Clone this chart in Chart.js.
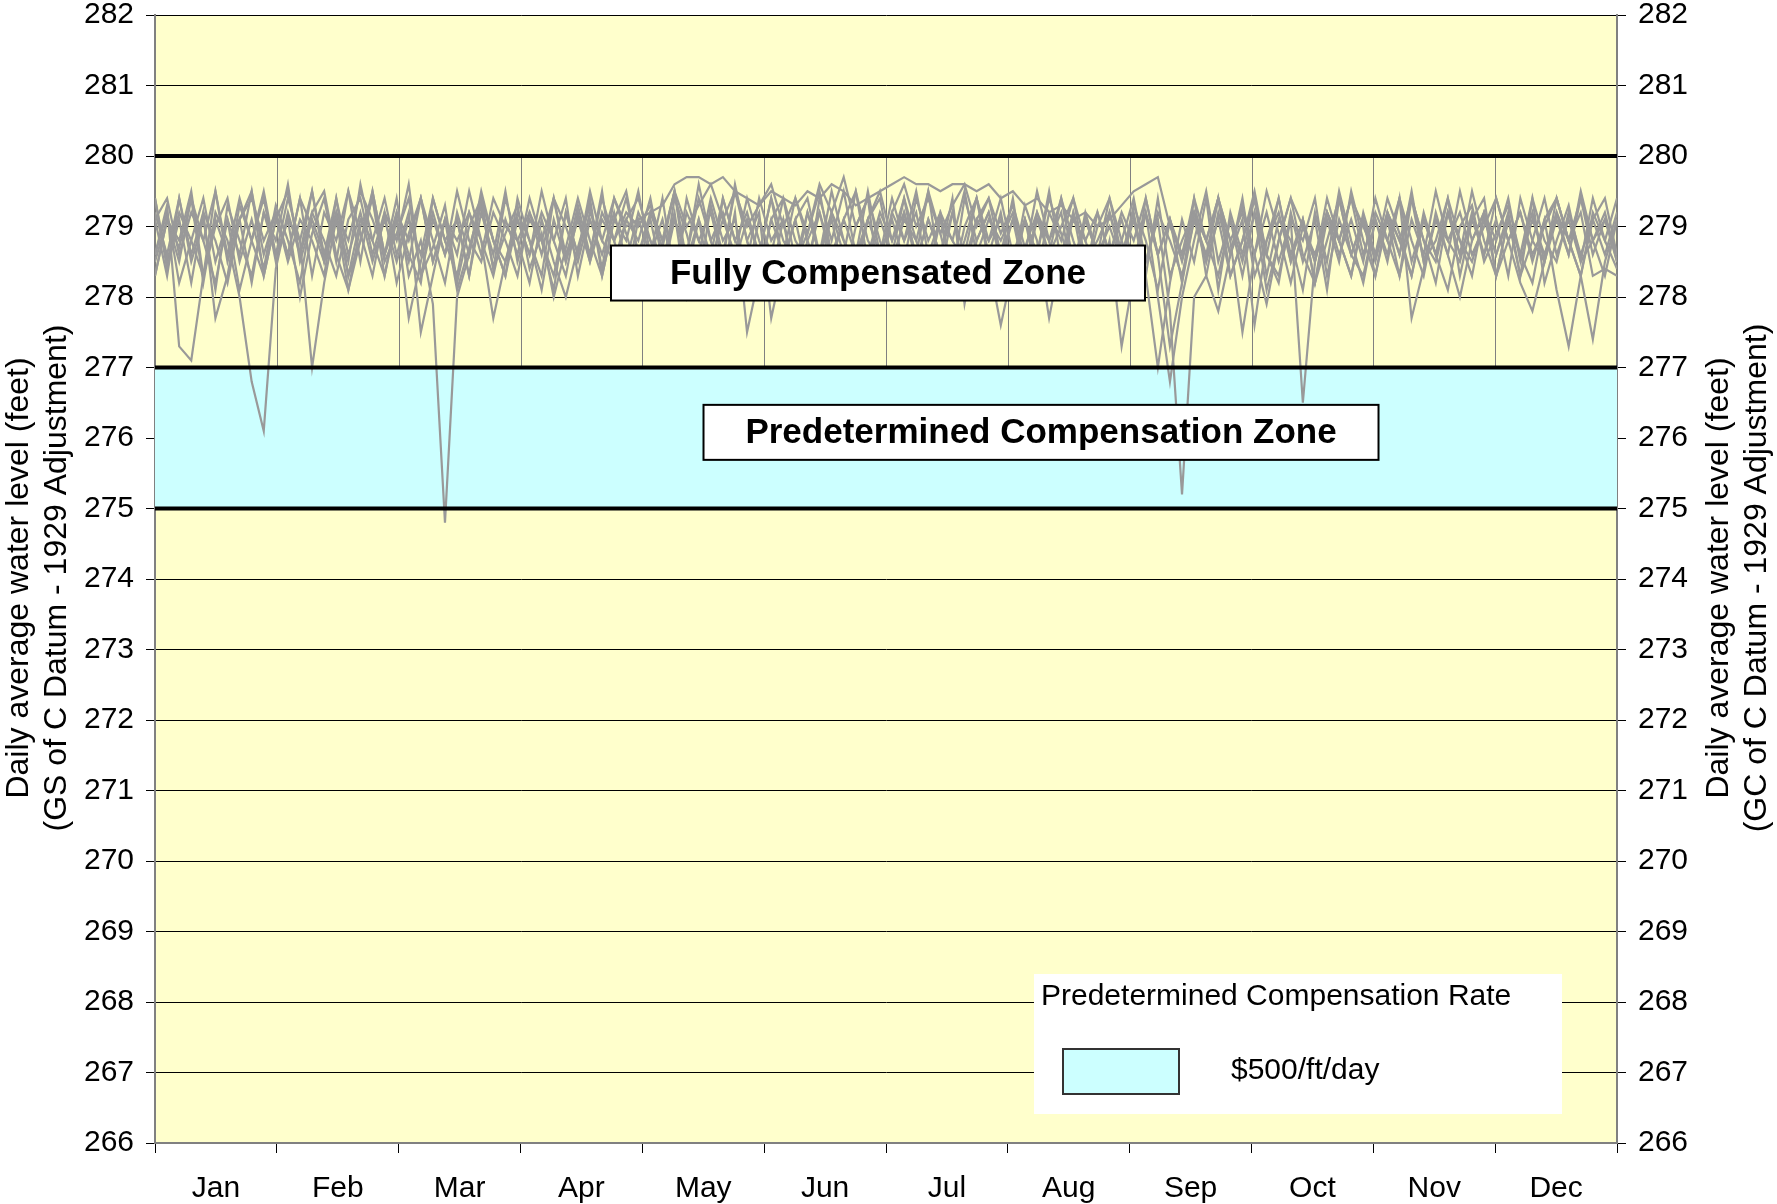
<!DOCTYPE html>
<html>
<head>
<meta charset="utf-8">
<script src="https://cdn.jsdelivr.net/npm/chart.js@4.4.1/dist/chart.umd.min.js"></script>
<style>
body { margin: 0; background: #fff; }
#wrap { width: 1777px; height: 1204px; position: relative; }
</style>
</head>
<body>
<div id="wrap"><canvas id="graphCanvas"></canvas></div>
<script>
var months = ['Jan', 'Feb', 'Mar', 'Apr', 'May', 'Jun', 'Jul', 'Aug', 'Sep', 'Oct', 'Nov', 'Dec'];
var daysInYear = 365;
var yMin = 266, yMax = 282;
var upperLine = 280, zoneTop = 277, zoneBottom = 275;
var rateLabel = '$500/ft/day';

// daily levels, one value every ~3 days, one array per year on record
var level1 = [
278.6, 279.3, 277.3, 277.1, 278.3, 279.0, 279.4, 278.5, 279.1, 278.4,
279.3, 278.8, 278.2, 279.2, 279.5, 278.6, 278.1, 279.0, 279.4, 278.5,
278.9, 279.4, 278.3, 278.7, 279.3, 278.2, 279.0, 279.4, 278.4, 278.9,
279.3, 278.4, 278.9, 278.0, 278.7, 279.4, 278.8, 278.3, 279.1, 279.5,
278.6, 279.1, 278.3, 279.4, 278.9, 278.2, 279.3, 278.6, 279.5, 278.8,
278.3, 279.1, 279.4, 278.5, 278.9, 279.5, 278.6, 278.2, 279.0, 279.4,
278.8, 278.3, 279.2, 278.6, 279.5, 278.9, 278.2, 279.0, 279.4, 278.5,
277.6, 278.4, 279.1, 278.6, 279.4, 278.9, 278.3, 279.2, 278.6, 279.0,
278.5, 279.3, 278.8, 278.1, 279.1, 278.6, 279.4, 278.3, 277.8, 278.6,
279.3, 278.6, 279.5, 278.9, 278.2, 279.0, 278.5, 279.4, 278.8, 278.3,
279.1, 278.6, 279.4, 278.9, 278.3, 279.2, 278.6, 278.1, 279.0, 279.3,
278.5, 278.9, 279.3, 278.6, 278.2, 279.1, 279.4, 278.8, 278.3, 279.1,
278.6, 279.2];
var level2 = [
279.4, 278.4, 279.1, 278.2, 279.2, 277.7, 278.3, 279.3, 278.8, 279.5,
278.6, 279.1, 278.0, 278.9, 279.4, 278.5, 279.5, 278.9, 278.3, 279.2,
278.2, 278.9, 279.4, 278.5, 279.1, 278.1, 278.7, 279.3, 278.4, 279.4,
278.8, 278.2, 279.1, 278.5, 278.0, 278.7, 279.3, 278.4, 279.4, 278.9,
278.3, 279.2, 278.7, 279.5, 278.5, 279.1, 278.2, 279.4, 278.8, 279.2,
278.6, 279.4, 278.5, 279.1, 278.3, 279.4, 278.8, 279.5, 278.6, 279.1,
279.4, 278.5, 279.1, 278.8, 279.5, 278.3, 279.2, 278.6, 279.4, 278.8,
279.1, 278.4, 279.3, 278.8, 277.7, 278.6, 279.2, 278.3, 279.0, 279.4,
278.6, 279.2, 278.3, 277.0, 278.2, 279.1, 278.5, 279.4, 278.1, 279.2,
278.6, 279.4, 278.3, 279.1, 278.8, 278.1, 279.2, 278.5, 279.5, 278.8,
278.2, 279.1, 278.5, 279.4, 277.7, 278.4, 279.1, 278.6, 279.5, 278.8,
279.2, 278.3, 279.1, 278.6, 279.4, 278.2, 278.8, 279.3, 278.5, 279.4,
278.8, 278.4];
var level3 = [
278.3, 279.1, 278.7, 279.4, 278.2, 279.2, 278.8, 278.0, 276.8, 276.1,
278.4, 279.2, 278.6, 279.5, 278.5, 279.1, 278.1, 278.8, 279.4, 278.3,
279.1, 278.5, 279.4, 278.8, 278.2, 279.2, 278.6, 279.5, 278.8, 278.3,
279.4, 278.8, 278.1, 279.1, 278.5, 279.3, 278.6, 279.5, 278.3, 279.1,
278.8, 279.4, 278.5, 279.1, 278.6, 279.6, 278.8, 278.3, 279.2, 277.5,
278.3, 279.1, 278.6, 279.4, 278.8, 278.3, 279.2, 278.6, 279.5, 278.8,
278.5, 279.2, 278.8, 279.5, 278.6, 279.1, 278.3, 279.4, 278.8, 279.2,
278.6, 279.4, 278.3, 279.1, 278.8, 278.2, 279.2, 278.6, 278.1, 278.8,
277.3, 278.3, 279.4, 278.6, 277.3, 278.2, 279.1, 278.5, 279.4, 278.3,
278.8, 279.5, 278.6, 278.2, 279.2, 278.5, 279.1, 278.1, 279.4, 278.6,
279.1, 278.3, 279.2, 278.6, 279.5, 278.5, 278.8, 279.4, 278.3, 279.1,
278.6, 279.4, 278.8, 278.2, 277.8, 278.5, 279.2, 278.6, 279.5, 278.8,
279.1, 278.5];
var level4 = [
279.2, 278.6, 279.4, 278.5, 279.1, 278.1, 279.3, 278.8, 278.3, 279.2,
278.6, 279.4, 278.8, 277.0, 278.2, 279.1, 278.5, 279.6, 278.8, 278.3,
279.2, 278.6, 278.2, 279.4, 278.8, 279.1, 278.3, 279.2, 278.6, 279.5,
278.5, 279.1, 278.8, 278.1, 279.2, 278.6, 279.4, 278.3, 279.1, 278.8,
279.5, 278.6, 279.1, 278.3, 279.4, 278.8, 279.2, 278.5, 279.6, 278.8,
279.2, 277.7, 278.5, 279.1, 279.4, 278.6, 279.2, 278.8, 278.3, 279.1,
279.5, 278.8, 279.2, 278.5, 279.1, 278.6, 279.4, 277.9, 278.8, 279.2,
278.5, 279.1, 278.6, 279.5, 278.8, 279.2, 278.2, 279.1, 278.6, 279.4,
278.8, 278.3, 279.2, 278.6, 279.1, 278.2, 279.4, 278.8, 278.3, 279.1,
278.5, 279.2, 278.1, 278.8, 279.4, 278.6, 278.2, 279.1, 278.5, 279.5,
278.8, 278.3, 279.1, 278.6, 279.4, 278.8, 278.2, 279.2, 278.6, 279.1,
279.4, 278.3, 278.8, 279.2, 278.5, 279.1, 278.1, 277.3, 278.3, 279.2,
278.8, 279.4];
var level5 = [
278.3, 279.1, 278.5, 279.4, 278.8, 278.2, 279.1, 278.6, 279.5, 278.3,
279.1, 278.6, 279.4, 278.3, 279.2, 278.8, 279.5, 278.5, 279.5, 278.6,
279.4, 278.3, 278.8, 277.9, 274.8, 278.0, 278.6, 279.4, 278.8, 278.3,
279.1, 278.6, 279.5, 278.8, 278.3, 279.2, 278.5, 279.1, 278.8, 279.4,
278.6, 279.2, 278.8, 279.5, 278.3, 279.1, 278.6, 279.4, 278.8, 278.5,
279.4, 278.8, 279.1, 278.3, 279.2, 278.6, 279.5, 278.8, 278.5, 279.1,
278.6, 279.4, 278.8, 279.2, 278.3, 279.1, 278.8, 279.5, 278.6, 279.1,
278.8, 279.2, 278.5, 279.1, 278.6, 279.4, 278.8, 278.3, 279.2, 278.6,
279.1, 278.5, 279.2, 278.0, 276.8, 278.0, 278.8, 279.5, 278.5, 279.1,
278.3, 279.2, 278.6, 279.4, 278.5, 279.1, 278.2, 279.2, 278.8, 278.3,
279.2, 278.6, 279.1, 278.3, 279.4, 278.8, 278.5, 279.2, 278.6, 279.5,
278.8, 278.3, 279.1, 278.6, 279.2, 278.5, 279.4, 278.8, 278.3, 277.4,
278.5, 279.1];
var level6 = [
279.4, 278.5, 279.2, 278.8, 278.3, 279.5, 278.6, 279.1, 278.2, 279.2,
278.8, 279.6, 278.5, 279.1, 278.6, 279.4, 278.3, 279.1, 278.8, 279.4,
278.6, 279.2, 277.5, 278.3, 279.1, 278.6, 279.5, 278.8, 278.3, 279.1,
278.6, 279.4, 278.8, 278.3, 279.2, 278.6, 279.5, 278.8, 278.5, 279.1,
279.4, 278.8, 278.5, 279.2, 278.0, 278.6, 279.4, 278.8, 279.1, 278.3,
279.1, 278.6, 279.4, 278.8, 278.5, 279.2, 278.6, 279.1, 279.5, 278.5,
279.1, 278.6, 279.4, 278.8, 278.3, 279.2, 278.8, 278.5, 279.1, 279.4,
278.6, 279.1, 278.3, 279.2, 278.8, 279.4, 278.5, 279.1, 278.6, 278.2,
278.8, 279.4, 278.5, 279.1, 277.8, 275.2, 278.0, 278.3, 279.2, 278.6,
279.4, 278.3, 278.8, 279.2, 278.5, 279.1, 278.2, 278.8, 279.4, 278.6,
278.3, 279.1, 278.6, 279.4, 278.8, 278.3, 279.2, 278.6, 278.0, 278.8,
279.2, 278.6, 279.1, 278.3, 279.4, 278.8, 278.5, 279.2, 278.6, 279.1,
279.4, 278.6];
var level7 = [
278.6, 279.2, 278.2, 278.8, 279.4, 278.5, 279.1, 278.1, 278.8, 279.4,
278.5, 279.1, 278.8, 279.5, 278.6, 279.2, 278.3, 278.8, 279.5, 278.6,
279.1, 277.7, 278.5, 279.2, 278.6, 279.1, 278.3, 279.4, 278.8, 278.5,
279.2, 278.8, 278.3, 279.4, 278.6, 279.1, 278.5, 279.2, 278.8, 278.2,
279.1, 278.6, 279.4, 278.3, 279.2, 278.8, 278.5, 279.1, 278.6, 279.4,
278.8, 278.3, 279.1, 278.1, 278.8, 279.2, 278.5, 279.1, 278.6, 279.5,
278.6, 279.1, 278.5, 279.4, 278.8, 279.2, 278.3, 278.8, 279.4, 278.6,
279.2, 278.3, 279.1, 278.6, 279.5, 278.5, 279.1, 278.8, 278.3, 279.2,
278.5, 279.1, 278.3, 279.4, 278.3, 278.8, 279.2, 278.5, 279.1, 278.3,
278.8, 279.4, 278.6, 278.3, 279.1, 276.5, 278.5, 279.2, 278.6, 279.1,
278.5, 279.4, 278.8, 278.3, 279.1, 278.6, 279.5, 278.8, 278.5, 279.2,
278.6, 279.1, 278.3, 279.4, 278.8, 278.5, 279.1, 278.6, 279.4, 278.8,
278.3, 279.1];
var level8 = [
279.1, 278.3, 279.4, 278.6, 279.2, 278.8, 278.2, 279.1, 279.5, 278.6,
279.2, 278.5, 279.1, 278.8, 278.3, 279.4, 278.6, 279.2, 278.5, 279.1,
278.5, 279.1, 278.6, 279.4, 278.8, 278.3, 279.2, 278.8, 277.7, 278.5,
279.1, 278.6, 279.2, 278.8, 279.4, 278.3, 279.1, 278.6, 279.2, 278.5,
279.2, 278.8, 278.3, 279.1, 278.6, 279.4, 278.8, 279.2, 278.5, 279.1,
278.6, 279.4, 278.8, 278.5, 279.2, 278.6, 279.1, 278.3, 278.0, 278.6,
279.2, 278.8, 279.4, 278.5, 279.1, 278.6, 279.2, 278.3, 279.1, 278.8,
279.4, 278.6, 279.1, 278.3, 279.2, 278.8, 279.4, 278.5, 278.8, 279.2,
278.6, 279.1, 278.5, 279.2, 278.8, 278.3, 279.1, 278.6, 279.4, 278.8,
277.5, 278.6, 279.2, 278.5, 279.1, 278.8, 279.4, 278.3, 279.1, 278.6,
279.1, 278.5, 279.2, 278.8, 278.3, 279.1, 278.6, 279.4, 278.8, 278.5,
279.1, 278.6, 279.2, 278.3, 278.8, 279.4, 278.6, 279.1, 278.5, 278.8,
279.2, 278.5];
var level9 = [
278.5, 279.1, 278.8, 279.5, 278.3, 279.1, 278.6, 279.4, 278.8, 278.3,
279.1, 279.5, 278.6, 279.2, 278.8, 278.3, 279.1, 279.4, 278.6, 279.2,
278.8, 279.6, 278.3, 279.1, 278.6, 279.5, 278.8, 278.5, 279.2, 278.8,
278.3, 279.2, 278.8, 279.4, 278.5, 279.1, 278.6, 279.4, 278.8, 279.2,
279.0, 279.3, 278.8, 279.5, 279.0, 279.3, 279.6, 279.1, 279.5, 279.0,
279.3, 279.6, 279.0, 279.4, 278.9, 279.6, 279.2, 279.7, 279.0, 279.4,
278.1, 279.2, 279.6, 279.0, 279.4, 278.9, 279.3, 279.6, 279.0, 279.4,
278.9, 279.3, 278.7, 279.2, 278.6, 279.0, 279.4, 278.8, 279.2, 278.6,
279.2, 278.8, 279.4, 278.6, 279.1, 278.5, 279.2, 278.8, 279.4, 278.6,
279.1, 277.6, 278.8, 279.4, 278.6, 279.1, 278.5, 279.2, 278.8, 279.4,
278.6, 279.2, 278.8, 279.4, 278.5, 279.1, 278.6, 279.2, 278.8, 278.3,
279.2, 278.8, 279.4, 278.5, 279.1, 278.6, 279.2, 278.8, 279.4, 278.6,
279.1, 278.6];
var level10 = [
279.1, 279.4, 278.6, 279.2, 278.8, 279.5, 278.5, 279.1, 279.4, 278.8,
279.2, 278.6, 279.4, 279.0, 278.5, 279.2, 278.8, 279.5, 279.1, 278.6,
279.2, 278.8, 279.4, 278.5, 279.1, 278.8, 279.2, 278.6, 279.4, 279.0,
278.8, 279.2, 278.6, 279.4, 279.0, 278.5, 279.2, 278.8, 279.4, 279.0,
279.1, 279.2, 279.3, 279.6, 279.7, 279.7, 279.6, 279.7, 279.5, 279.4,
279.3, 279.5, 279.4, 279.3, 279.5, 279.4, 279.6, 279.5, 279.3, 279.4,
279.5, 279.6, 279.7, 279.6, 279.6, 279.5, 279.6, 279.6, 279.5, 279.6,
279.4, 279.5, 279.3, 279.4, 279.2, 279.3, 279.1, 279.2, 279.0, 279.1,
279.3, 279.5, 279.6, 279.7, 279.0, 278.6, 279.2, 278.8, 279.4, 278.8,
279.2, 278.6, 277.9, 278.8, 279.4, 279.0, 278.6, 279.2, 278.8, 279.4,
279.0, 278.6, 279.2, 278.8, 279.4, 278.5, 279.1, 278.8, 279.2, 278.6,
279.0, 279.4, 278.8, 279.2, 278.6, 279.0, 279.4, 278.8, 279.2, 278.3,
278.4, 278.3];

showGraph();

function showGraph() {
    var levels = [level1, level2, level3, level4, level5, level6, level7, level8, level9, level10];
    var datasets = [];

    // predetermined compensation zone
    datasets.push({
        label: 'zone',
        data: [{ x: 0, y: zoneTop }, { x: daysInYear, y: zoneTop }],
        fill: { value: zoneBottom },
        backgroundColor: '#CCFFFF',
        borderWidth: 0,
        pointRadius: 0,
        xAxisID: 'xd',
        yAxisID: 'y',
        order: 30
    });

    for (var i = 0; i < levels.length; i++) {
        var pts = [];
        var n = levels[i].length;
        for (var j = 0; j < n; j++) {
            pts.push({ x: j * daysInYear / (n - 1), y: levels[i][j] });
        }
        datasets.push({
            label: 'level' + (i + 1),
            data: pts,
            borderColor: '#999999',
            borderWidth: 2.2,
            pointRadius: 0,
            fill: false,
            tension: 0,
            xAxisID: 'xd',
            yAxisID: 'y',
            order: 20
        });
    }

    var limits = [upperLine, zoneTop, zoneBottom];
    for (var k = 0; k < limits.length; k++) {
        datasets.push({
            label: 'limit' + limits[k],
            data: [{ x: 0, y: limits[k] }, { x: daysInYear, y: limits[k] }],
            borderColor: '#000000',
            borderWidth: 4,
            pointRadius: 0,
            fill: false,
            xAxisID: 'xd',
            yAxisID: 'y',
            order: 10
        });
    }

    var zonePlugin = {
        id: 'zones',
        beforeDraw: function (chart) {
            var a = chart.chartArea, ctx = chart.ctx;
            ctx.save();
            ctx.fillStyle = '#FFFFCC';
            ctx.fillRect(a.left, a.top, a.right - a.left, a.bottom - a.top);
            ctx.restore();
        },
        beforeDatasetsDraw: function (chart) {
            var ctx = chart.ctx, xs = chart.scales.xd, ys = chart.scales.y;
            ctx.save();
            ctx.strokeStyle = '#808080';
            ctx.lineWidth = 1;
            for (var m = 1; m < months.length; m++) {
                var px = Math.round(xs.getPixelForValue(m * daysInYear / months.length)) + 0.5;
                ctx.beginPath();
                ctx.moveTo(px, ys.getPixelForValue(upperLine));
                ctx.lineTo(px, ys.getPixelForValue(zoneTop));
                ctx.stroke();
            }
            ctx.restore();
        },
        afterDatasetsDraw: function (chart) {
            var ctx = chart.ctx, xs = chart.scales.xd, ys = chart.scales.y, a = chart.chartArea;
            ctx.save();
            drawBox(ctx, xs.getPixelForValue(180.5), ys.getPixelForValue(278.34), 534, 55, 'Fully Compensated Zone');
            drawBox(ctx, xs.getPixelForValue(221.2), ys.getPixelForValue(276.08), 675, 55, 'Predetermined Compensation Zone');

            // legend
            var lx = a.left + 879, ly = a.top + 959;
            ctx.fillStyle = '#FFFFFF';
            ctx.fillRect(lx, ly, 528, 140);
            ctx.fillStyle = '#000000';
            ctx.font = '30px "Liberation Sans", Arial, sans-serif';
            ctx.textAlign = 'left';
            ctx.textBaseline = 'middle';
            ctx.fillText('Predetermined Compensation Rate', lx + 7, ly + 23);
            ctx.fillStyle = '#CCFFFF';
            ctx.fillRect(lx + 29, ly + 75, 116, 45);
            ctx.strokeStyle = '#333333';
            ctx.lineWidth = 2;
            ctx.strokeRect(lx + 29, ly + 75, 116, 45);
            ctx.fillStyle = '#000000';
            ctx.fillText(rateLabel, lx + 197, ly + 97);

            // axis titles
            ctx.font = '32px "Liberation Sans", Arial, sans-serif';
            ctx.textAlign = 'center';
            drawTitle(ctx, 19, 578, 'Daily average water level (feet)');
            drawTitle(ctx, 57, 578, '(GS of C Datum - 1929 Adjustment)');
            drawTitle(ctx, 1719, 578, 'Daily average water level (feet)');
            drawTitle(ctx, 1757, 578, '(GC of C Datum - 1929 Adjustment)');
            ctx.restore();
        }
    };

    function drawBox(ctx, cx, cy, w, h, text) {
        ctx.fillStyle = '#FFFFFF';
        ctx.fillRect(cx - w / 2, cy - h / 2, w, h);
        ctx.strokeStyle = '#000000';
        ctx.lineWidth = 2;
        ctx.strokeRect(cx - w / 2, cy - h / 2, w, h);
        ctx.fillStyle = '#000000';
        ctx.font = 'bold 35px "Liberation Sans", Arial, sans-serif';
        ctx.textAlign = 'center';
        ctx.textBaseline = 'middle';
        ctx.fillText(text, cx, cy + 1);
    }

    function drawTitle(ctx, x, y, text) {
        ctx.save();
        ctx.translate(x, y);
        ctx.rotate(-Math.PI / 2);
        ctx.textBaseline = 'middle';
        ctx.fillText(text, 0, 0);
        ctx.restore();
    }

    var yTicks = {
        stepSize: 1,
        color: '#000000',
        font: { size: 30, lineHeight: 1 },
        padding: 12
    };

    function fitY(width) {
        return function (s) {
            s.width = width;
            s.paddingTop = 0;
            s.paddingBottom = 0;
        };
    }

    var graphTarget = document.getElementById('graphCanvas');
    var lineGraph = new Chart(graphTarget, {
        type: 'line',
        data: { labels: months, datasets: datasets },
        options: {
            animation: false,
            responsive: true,
            maintainAspectRatio: false,
            layout: { padding: { top: 15, left: 0, right: 0, bottom: 0 } },
            plugins: { legend: { display: false }, tooltip: { enabled: false } },
            scales: {
                x: {
                    type: 'category',
                    position: 'bottom',
                    offset: true,
                    grid: { offset: true, drawOnChartArea: false, tickLength: 10, color: '#000000' },
                    border: { color: '#808080', width: 2 },
                    ticks: { color: '#000000', font: { size: 30 }, padding: 18, maxRotation: 0, autoSkip: false },
                    afterFit: function (s) { s.height = 61; }
                },
                xd: { type: 'linear', display: false, min: 0, max: daysInYear },
                y: {
                    position: 'left',
                    min: yMin,
                    max: yMax,
                    ticks: yTicks,
                    grid: { color: '#000000', lineWidth: 1, tickLength: 9 },
                    border: { color: '#808080', width: 2 },
                    afterFit: fitY(155)
                },
                y2: {
                    position: 'right',
                    display: true,
                    min: yMin,
                    max: yMax,
                    ticks: yTicks,
                    grid: { drawOnChartArea: false, color: '#000000', tickLength: 9 },
                    border: { color: '#808080', width: 2 },
                    afterFit: fitY(160)
                }
            }
        },
        plugins: [zonePlugin]
    });
}
</script>
</body>
</html>
